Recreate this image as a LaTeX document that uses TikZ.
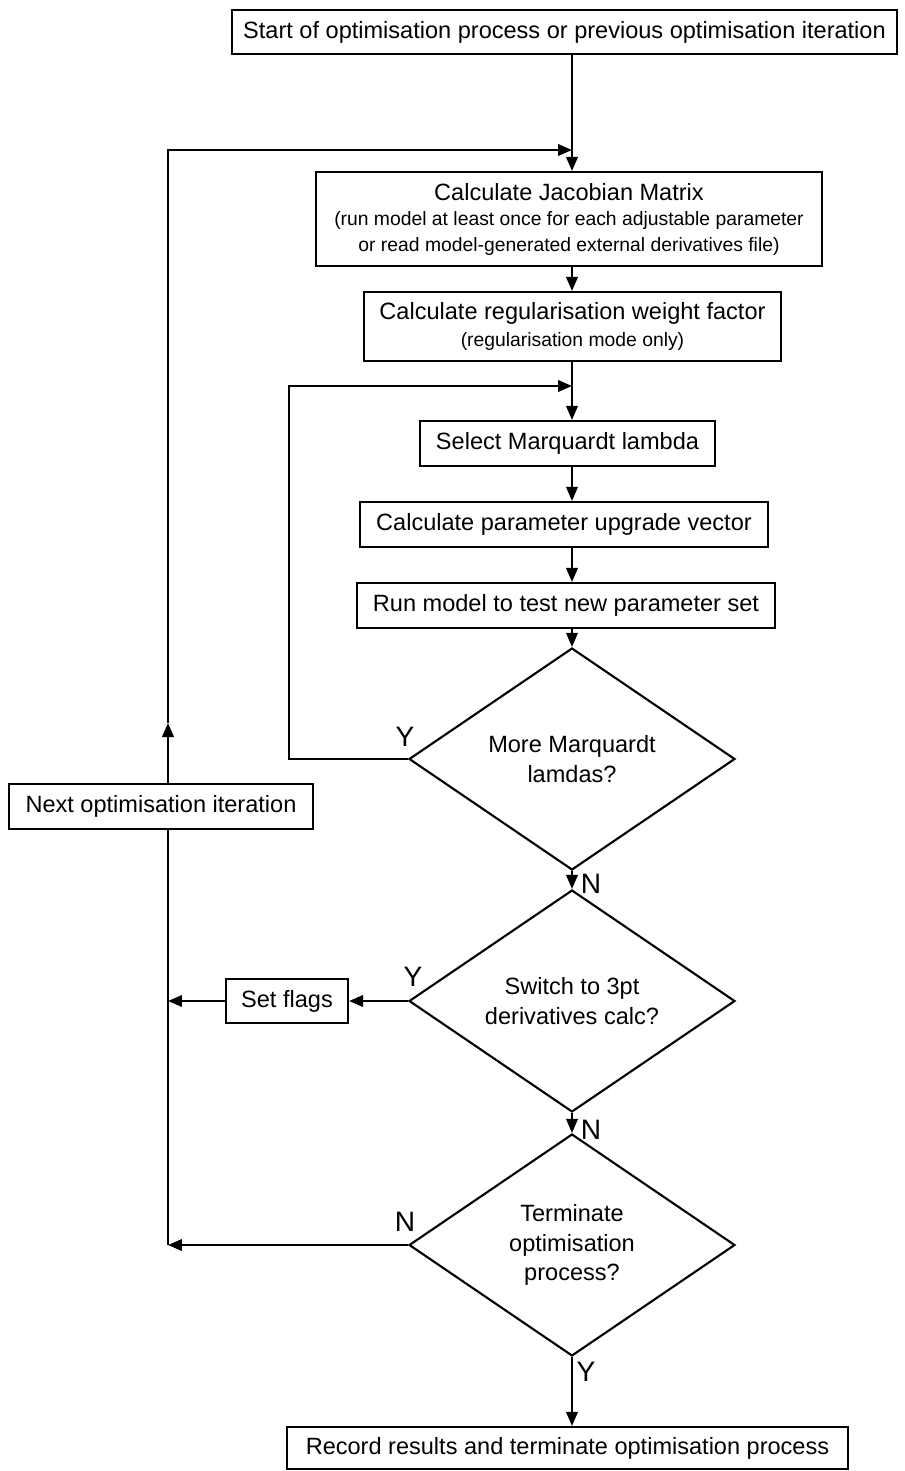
\documentclass[tikz,border=0pt]{standalone}
\usepackage{fontspec}
\setmainfont{Liberation Sans}
\usepackage{tikz}
\usetikzlibrary{shapes.geometric,arrows.meta}

\newcommand{\bigtext}{\fontsize{13.4}{17}\selectfont}
\newcommand{\smalltext}{\fontsize{11}{13.5}\selectfont}

\begin{document}
\begin{tikzpicture}[x=0.02cm,y=-0.02cm,line width=1.2pt]

%
% Styles
%
\tikzstyle{stepbox}  = [draw,align=center,inner sep=2pt,font=\bigtext]
\tikzstyle{decision} = [diamond,draw,aspect=1.47,inner sep=0pt,minimum width=6.52cm,minimum height=4.44cm,align=center,font=\bigtext]
\tikzstyle{flow}     = [-{Triangle[length=2.8mm,width=2.3mm]}]
\tikzstyle{answer}   = [font=\fontsize{16}{19}\selectfont]

\useasboundingbox (0,0) rectangle (904,1471);

\coordinate (spine)  at (572,0);
\coordinate (back)   at (168,0);
\coordinate (loop)   at (289,0);
\coordinate (join1)  at (572,150);
\coordinate (join2)  at (572,386);
\coordinate (uptip)  at (168,723);

\node[stepbox,minimum width=13.3cm,minimum height=0.88cm]  (start)  at (564.5,32)   {Start of optimisation process or previous optimisation iteration};
\node[stepbox,minimum width=10.12cm,minimum height=1.88cm,font=\smalltext] (jac) at (569,219)
  {{\bigtext Calculate Jacobian Matrix}\\[1pt](run model at least once for each adjustable parameter\\[1pt]or read model-generated external derivatives file)};
\node[stepbox,minimum width=8.34cm,minimum height=1.38cm,font=\smalltext] (reg) at (572.5,326.5)
  {{\bigtext Calculate regularisation weight factor}\\[2pt](regularisation mode only)};
\node[stepbox,minimum width=5.9cm,minimum height=0.9cm]    (select) at (567.5,443.5) {Select Marquardt lambda};
\node[stepbox,minimum width=8.16cm,minimum height=0.9cm]   (upgrade) at (564,524.5) {Calculate parameter upgrade vector};
\node[stepbox,minimum width=8.36cm,minimum height=0.9cm]   (run)    at (566,605.5)  {Run model to test new parameter set};
\node[decision] (more)   at (572,759)  {More Marquardt\\lamdas?};
\node[decision] (switch) at (572,1001) {Switch to 3pt\\derivatives calc?};
\node[decision] (finish) at (572,1245) {Terminate\\optimisation\\process?};
\node[stepbox,minimum width=2.44cm,minimum height=0.88cm]  (flags)  at (287,1001)   {Set flags};
\node[stepbox,minimum width=6.08cm,minimum height=0.9cm]   (next)   at (161,806.5)  {Next optimisation iteration};
\node[stepbox,minimum width=11.22cm,minimum height=0.84cm] (record) at (567.5,1448) {Record results and terminate optimisation process};

\node[answer] (ymore)   at (405,737)  {Y};
\node[answer] (nmore)   at (591,884)  {N};
\node[answer] (yswitch) at (413,977)  {Y};
\node[answer] (nswitch) at (591,1130) {N};
\node[answer] (nfinish) at (405,1222) {N};
\node[answer] (yfinish) at (586,1372) {Y};

\draw       (start.south -| spine) -- (join1);
\draw[flow] (join1) -- (jac.north -| spine);
\draw[flow] (jac.south -| spine) -- (reg.north -| spine);
\draw       (reg.south -| spine) -- (join2);
\draw[flow] (join2) -- (select.north -| spine);
\draw[flow] (select.south -| spine) -- (upgrade.north -| spine);
\draw[flow] (upgrade.south -| spine) -- (run.north -| spine);
\draw[flow] (run.south -| spine) -- (more.north);
\draw[flow] (more.west) -| (loop |- join2) -- (join2);
\draw[flow] (more.south) -- (switch.north);
\draw[flow] (switch.west) -- (flags.east);
\draw[flow] (flags.west) -- (flags.west -| back);
\draw[flow] (switch.south) -- (finish.north);
\draw[flow] (finish.west) -- (finish.west -| back);
\draw[flow] (finish.south) -- (record.north -| spine);
\draw       (finish.west -| back) -- (next.south -| back);
\draw[flow] (next.north -| back) -- (uptip);
\draw[flow] (uptip) |- (join1);

\end{tikzpicture}
\end{document}
